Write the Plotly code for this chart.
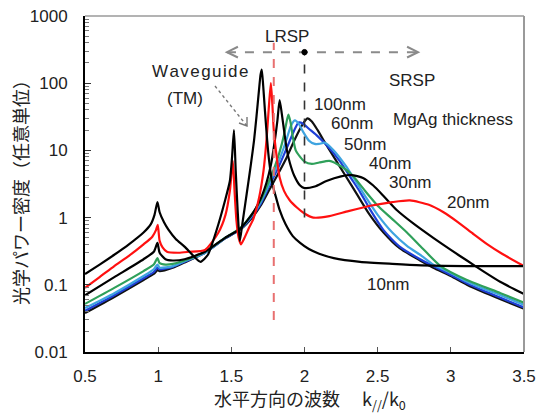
import math
import plotly.graph_objects as go

# ---------------- data ----------------
x10 = [0.5, 0.6, 0.7, 0.8, 0.9, 0.95, 0.975, 0.995, 1.01, 1.04, 1.07, 1.12, 1.18, 1.24, 1.29, 1.34,
       1.40, 1.457, 1.49, 1.505, 1.518, 1.53, 1.543, 1.558, 1.575, 1.595, 1.615, 1.635, 1.655, 1.672,
       1.688, 1.70, 1.708, 1.718, 1.73, 1.745, 1.76, 1.78, 1.80, 1.83, 1.87, 1.92, 1.97, 2.03, 2.1,
       2.2, 2.38, 2.6, 2.8, 3.1, 3.5]
y10 = [0.145, 0.2, 0.28, 0.4, 0.6, 0.8, 1.1, 1.7, 1.2, 0.85, 0.66, 0.48, 0.37, 0.27, 0.22, 0.28,
       0.66, 1.8, 3.5, 8, 20, 5, 1.3, 0.45, 0.8, 1.6, 3.2, 6.5, 14, 32,
       75, 135, 160, 90, 38, 14, 6.5, 3.2, 2.2, 1.3, 0.8, 0.53, 0.42, 0.34, 0.29,
       0.25, 0.22, 0.205, 0.195, 0.19, 0.19]

x20 = [0.5, 0.6, 0.7, 0.8, 0.9, 0.96, 0.985, 0.997, 1.01, 1.03, 1.06, 1.14, 1.21, 1.32, 1.41, 1.46,
       1.49, 1.51, 1.522, 1.535, 1.55, 1.565, 1.59, 1.62, 1.65, 1.69, 1.72, 1.74, 1.755, 1.77, 1.78,
       1.79, 1.81, 1.83, 1.86, 1.90, 1.95, 2.0, 2.06, 2.17, 2.3, 2.45, 2.6, 2.72, 2.85, 2.95, 3.05,
       3.15, 3.25, 3.35, 3.5]
y20 = [0.09, 0.13, 0.19, 0.27, 0.4, 0.52, 0.65, 0.78, 0.45, 0.36, 0.31, 0.3, 0.31, 0.33, 0.59, 1.1,
       2.5, 7, 2.5, 0.9, 0.5, 0.4, 0.5, 0.7, 0.95, 2, 5, 14, 40, 100, 50,
       20, 8, 4, 2.5, 1.8, 1.4, 1.15, 1.0, 1.05, 1.25, 1.5, 1.7, 1.8, 1.55, 1.2, 0.85,
       0.58, 0.4, 0.29, 0.19]

x30 = [0.5, 0.7, 0.9, 0.97, 0.995, 1.01, 1.05, 1.1, 1.18, 1.32, 1.457, 1.56, 1.65, 1.70, 1.74, 1.77,
       1.795, 1.815, 1.83, 1.845, 1.86, 1.88, 1.90, 1.93, 1.97, 2.0, 2.07, 2.15, 2.25, 2.32, 2.4,
       2.47, 2.54, 2.63, 2.75, 2.88, 3.0, 3.11, 3.22, 3.34, 3.5]
y30 = [0.07, 0.13, 0.24, 0.31, 0.42, 0.3, 0.24, 0.23, 0.24, 0.31, 0.5, 0.68, 1.2, 1.9, 3.3, 6,
       13, 28, 56, 35, 20, 10, 6.5, 4.2, 3.0, 2.75, 2.9, 3.5, 4.1, 4.3, 3.9,
       3.0, 2.1, 1.3, 0.8, 0.5, 0.33, 0.23, 0.16, 0.11, 0.073]

x40 = [0.5, 0.7, 0.9, 0.97, 0.995, 1.01, 1.05, 1.1, 1.18, 1.32, 1.457, 1.56, 1.65, 1.70, 1.76, 1.80,
       1.83, 1.86, 1.875, 1.89, 1.905, 1.92, 1.94, 1.97, 2.0, 2.05, 2.1, 2.17, 2.25, 2.33, 2.42,
       2.5, 2.6, 2.7, 2.8, 2.93, 3.11, 3.34, 3.5]
y40 = [0.052, 0.09, 0.16, 0.2, 0.25, 0.21, 0.2, 0.205, 0.23, 0.31, 0.5, 0.7, 1.2, 1.8, 3.6, 6,
       9.5, 17, 25, 34, 26, 16, 10, 8, 6.8, 6.3, 6.6, 7.0, 5.8, 4.2, 2.4,
       1.5, 0.95, 0.6, 0.36, 0.19, 0.118, 0.075, 0.054]

x50 = [0.5, 0.7, 0.9, 0.97, 0.995, 1.01, 1.1, 1.18, 1.32, 1.457, 1.56, 1.65, 1.70, 1.76, 1.82, 1.87,
       1.91, 1.935, 1.96, 1.99, 2.03, 2.07, 2.1, 2.14, 2.2, 2.28, 2.35, 2.42, 2.5, 2.6, 2.7, 2.8,
       2.88, 3.0, 3.11, 3.22, 3.34, 3.5]
y50 = [0.045, 0.075, 0.135, 0.17, 0.2, 0.18, 0.19, 0.225, 0.3, 0.5, 0.68, 1.15, 1.7, 3.2, 6.5, 13,
       24, 28, 25, 19, 14, 12.5, 12.5, 13, 10, 6, 3.5, 2.0, 1.1, 0.6, 0.38, 0.27,
       0.2, 0.15, 0.112, 0.088, 0.07, 0.05]

x60 = [0.5, 0.7, 0.9, 0.97, 0.995, 1.01, 1.1, 1.18, 1.32, 1.457, 1.56, 1.65, 1.70, 1.76, 1.82, 1.88,
       1.93, 1.96, 1.99, 2.03, 2.08, 2.15, 2.24, 2.32, 2.38, 2.45, 2.54, 2.65, 2.79, 2.88, 3.0,
       3.11, 3.22, 3.34, 3.5]
y60 = [0.041, 0.07, 0.125, 0.155, 0.18, 0.17, 0.185, 0.22, 0.3, 0.49, 0.67, 1.1, 1.6, 3.0, 5.5, 11,
       20, 26, 25, 21, 17, 12, 7, 3.8, 2.4, 1.3, 0.65, 0.37, 0.24, 0.19, 0.14,
       0.105, 0.082, 0.064, 0.046]

x100 = [0.5, 0.7, 0.9, 0.97, 0.995, 1.01, 1.1, 1.18, 1.32, 1.457, 1.56, 1.65, 1.70, 1.76, 1.82, 1.88,
        1.93, 1.97, 2.0, 2.02, 2.05, 2.09, 2.14, 2.2, 2.28, 2.36, 2.44, 2.54, 2.65, 2.79, 2.88,
        3.0, 3.11, 3.22, 3.34, 3.5]
y100 = [0.038, 0.066, 0.118, 0.145, 0.165, 0.16, 0.18, 0.215, 0.3, 0.49, 0.66, 1.05, 1.5, 2.6, 4.5, 8,
        14, 21, 27, 30, 27, 20, 13, 8, 4.2, 2.2, 1.15, 0.6, 0.35, 0.23, 0.18,
        0.135, 0.1, 0.078, 0.061, 0.044]

series_names = ["100nm", "60nm", "50nm", "40nm", "30nm", "20nm", "10nm"]
series_x = [x100, x60, x50, x40, x30, x20, x10]
series_y = [y100, y60, y50, y40, y30, y20, y10]
series_colors = ["#111111", "#1f3fd6", "#3fa4e0", "#2fa05a", "#000000", "#ff1010", "#000000"]

x_ticks = [0.5, 1, 1.5, 2, 2.5, 3, 3.5]
x_ticktext = ["0.5", "1", "1.5", "2", "2.5", "3", "3.5"]
y_ticks = [0.01, 0.1, 1, 10, 100, 1000]
y_ticktext = ["0.01", "0.1", "1", "10", "100", "1000"]
y_minor = [m * 10 ** e for e in range(-2, 3) for m in range(2, 10)]

LRSP_X = 1.79        # red dashed line
SRSP_X = 2.0         # black dashed line
ARROW_Y = 290        # y level of the LRSP/SRSP arrow
ARROW_X0, ARROW_X1 = 1.47, 2.776

# ---------------- figure ----------------
LOG_MIN, LOG_MAX = -2, 3


def yp(v):
    """value -> paper fraction on the log y axis"""
    return (math.log10(v) - LOG_MIN) / (LOG_MAX - LOG_MIN)


fig = go.Figure()
for name, xs, ys, c in zip(series_names, series_x, series_y, series_colors):
    fig.add_trace(go.Scatter(x=xs, y=ys, mode="lines", name=name,
                             line=dict(color=c, width=2.2, shape="spline", smoothing=0.6),
                             showlegend=False))

shapes = []
# red dashed vertical (LRSP position)
shapes.append(dict(type="line", xref="x", yref="paper", x0=LRSP_X, x1=LRSP_X,
                   y0=yp(0.03), y1=yp(400), line=dict(color="#e87070", width=2, dash="dash")))
# black dashed vertical (SRSP position)
shapes.append(dict(type="line", xref="x", yref="paper", x0=SRSP_X, x1=SRSP_X,
                   y0=yp(1.0), y1=yp(ARROW_Y), line=dict(color="#333333", width=1.6, dash="dash")))
# horizontal gray dashed double arrow
ay = yp(ARROW_Y)
shapes.append(dict(type="line", xref="x", yref="paper", x0=ARROW_X0, x1=ARROW_X1,
                   y0=ay, y1=ay, line=dict(color="#8a8a8a", width=2, dash="dash")))
dx = 0.075
dy = 0.016
shapes.append(dict(type="path", xref="x", yref="paper",
                   path=f"M {ARROW_X0 + dx} {ay + dy} L {ARROW_X0} {ay} L {ARROW_X0 + dx} {ay - dy}",
                   line=dict(color="#8a8a8a", width=2)))
shapes.append(dict(type="path", xref="x", yref="paper",
                   path=f"M {ARROW_X1 - dx} {ay + dy} L {ARROW_X1} {ay} L {ARROW_X1 - dx} {ay - dy}",
                   line=dict(color="#8a8a8a", width=2)))
# black dot
shapes.append(dict(type="circle", xref="x", yref="paper", x0=SRSP_X - 0.018, x1=SRSP_X + 0.018,
                   y0=ay - 0.008, y1=ay + 0.008, fillcolor="#000000", line=dict(color="#000000", width=1)))


# waveguide dotted arrow (paper coordinates)
def px2paper(px, py):
    return (px - 85) / 439, (352 - py) / 336


wx0, wy0 = px2paper(215, 86)
wx1, wy1 = px2paper(247, 126)
shapes.append(dict(type="line", xref="paper", yref="paper", x0=wx0, y0=wy0, x1=wx1, y1=wy1,
                   line=dict(color="#777777", width=1.4, dash="dot")))
ha, hb = px2paper(239, 123), px2paper(247, 117)
shapes.append(dict(type="path", xref="paper", yref="paper",
                   path=f"M {ha[0]} {ha[1]} L {wx1} {wy1} L {hb[0]} {hb[1]}",
                   line=dict(color="#777777", width=1.4)))
# gray top/right frame
shapes.append(dict(type="line", xref="paper", yref="paper", x0=0, x1=1, y0=1, y1=1,
                   line=dict(color="#9a9a9a", width=1.5)))
shapes.append(dict(type="line", xref="paper", yref="paper", x0=1, x1=1, y0=0, y1=1,
                   line=dict(color="#9a9a9a", width=2)))

TFONT = dict(family="Arial, Liberation Sans, sans-serif", size=17, color="#222222")
labels = [
    ("LRSP", 287, 36),
    ("W a v e g u i d e", 200, 72),
    ("(TM)", 185, 98),
    ("SRSP", 412, 80),
    ("100nm", 340, 105),
    ("60nm", 352, 124),
    ("MgAg thickness", 453, 119),
    ("50nm", 365, 144),
    ("40nm", 390, 163),
    ("30nm", 410, 182),
    ("20nm", 468, 202),
    ("10nm", 388, 284),
]
annotations = []
for t, px, py in labels:
    ax_, ay_ = px2paper(px, py)
    if t.startswith("W a"):
        t = "W\u200aa\u200av\u200ae\u200ag\u200au\u200ai\u200ad\u200ae"
    annotations.append(dict(text=t, x=ax_, y=ay_, xref="paper", yref="paper",
                            showarrow=False, xanchor="center", yanchor="middle", font=TFONT))

# axis titles placed as annotations so the plot area stays fixed
annotations.append(dict(text="水平方向の波数\u3000 k<sub>//</sub>/k<sub>0</sub>",
                        x=px2paper(310, 0)[0], y=px2paper(0, 399)[1], xref="paper", yref="paper",
                        showarrow=False, xanchor="center", yanchor="middle",
                        font=dict(family="Noto Sans CJK JP, sans-serif", size=18, color="#222222")))
annotations.append(dict(text="光学パワー密度（任意単位）", textangle=-90,
                        x=px2paper(20, 0)[0], y=px2paper(0, 188)[1], xref="paper", yref="paper",
                        showarrow=False, xanchor="center", yanchor="middle",
                        font=dict(family="Noto Sans CJK JP, sans-serif", size=18, color="#222222")))

fig.update_layout(
    width=539, height=414,
    margin=dict(l=85, r=15, t=16, b=62, autoexpand=False),
    paper_bgcolor="white", plot_bgcolor="white",
    shapes=shapes, annotations=annotations,
    font=dict(family="Arial, Liberation Sans, Noto Sans CJK JP, sans-serif", size=16, color="#222222"),
)
fig.update_xaxes(range=[0.5, 3.5], tickvals=x_ticks, ticktext=x_ticktext, automargin=False,
                 showline=True, linecolor="#000000", linewidth=2, mirror=False,
                 ticks="inside", ticklen=5, tickcolor="#555555", showgrid=False, zeroline=False,
                 tickfont=dict(size=17, color="#222222"), ticklabelstandoff=8)
fig.update_yaxes(type="log", range=[LOG_MIN, LOG_MAX], tickvals=y_ticks, ticktext=y_ticktext,
                 automargin=False,
                 showline=True, linecolor="#000000", linewidth=2, mirror=False,
                 ticks="inside", ticklen=6, tickcolor="#333333", showgrid=False, zeroline=False,
                 minor=dict(tickvals=y_minor, ticks="inside", ticklen=4, tickcolor="#777777", showgrid=False),
                 tickfont=dict(size=17, color="#222222"), ticklabelstandoff=12)

fig.write_html("out.html", config={"displayModeBar": False},
               post_script="document.body.style.margin='0';")
